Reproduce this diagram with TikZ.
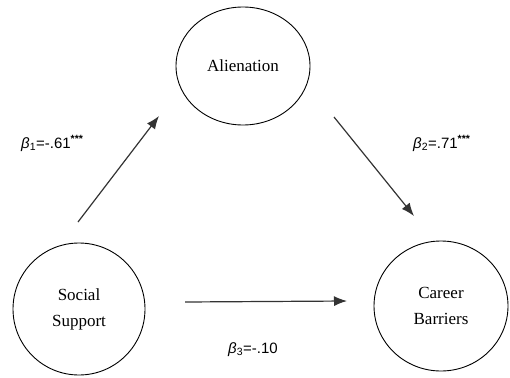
\documentclass[tikz,border=0pt]{standalone}
\usepackage{fontspec}
\setmainfont{Liberation Serif}
\newfontfamily\arialfont{Liberation Sans}
\usetikzlibrary{arrows.meta,shapes.geometric}
\tikzset{
  var/.style={draw, ellipse, line width=0.9pt, align=center, inner sep=0pt,
    font=\fontsize{17}{26}\selectfont},
  path/.style={line width=1.2pt, black!80, -{Latex[length=13pt,width=10pt]}},
  coef/.style={anchor=base west, inner sep=0pt, font=\arialfont\fontsize{15}{18}\selectfont}
}
\begin{document}
\begin{tikzpicture}[x=1pt,y=-1pt]
\useasboundingbox (0,0) rectangle (510,377);
% the three variables
\node[var, minimum width=134pt, minimum height=118pt] (ali) at (243,66) {Alienation};
\node[var, minimum width=132pt, minimum height=132pt] (soc) at (79,309) {Social\\Support};
\node[var, minimum width=134pt, minimum height=130pt] (car) at (441,306) {Career\\Barriers};
% free ends of the paths
\coordinate (soc-a) at (78,222);
\coordinate (ali-in) at (159,116);
\coordinate (ali-out) at (334,117);
\coordinate (car-in) at (414,216);
\coordinate (soc-c) at (185,302);
\coordinate (car-c) at (347,301);
\draw[path] (soc-a) -- (ali-in);
\draw[path] (ali-out) -- (car-in);
\draw[path] (soc-c) -- (car-c);
% coefficients
\node[coef] (b1) at (21,148) {{\itshape β}\textsubscript{1}=-.61\textsuperscript{\bfseries ***}};
\node[coef] (b2) at (413,148) {{\itshape β}\textsubscript{2}=.71\textsuperscript{\bfseries ***}};
\node[coef] (b3) at (228,353) {{\itshape β}\textsubscript{3}=-.10};
\end{tikzpicture}
\end{document}
